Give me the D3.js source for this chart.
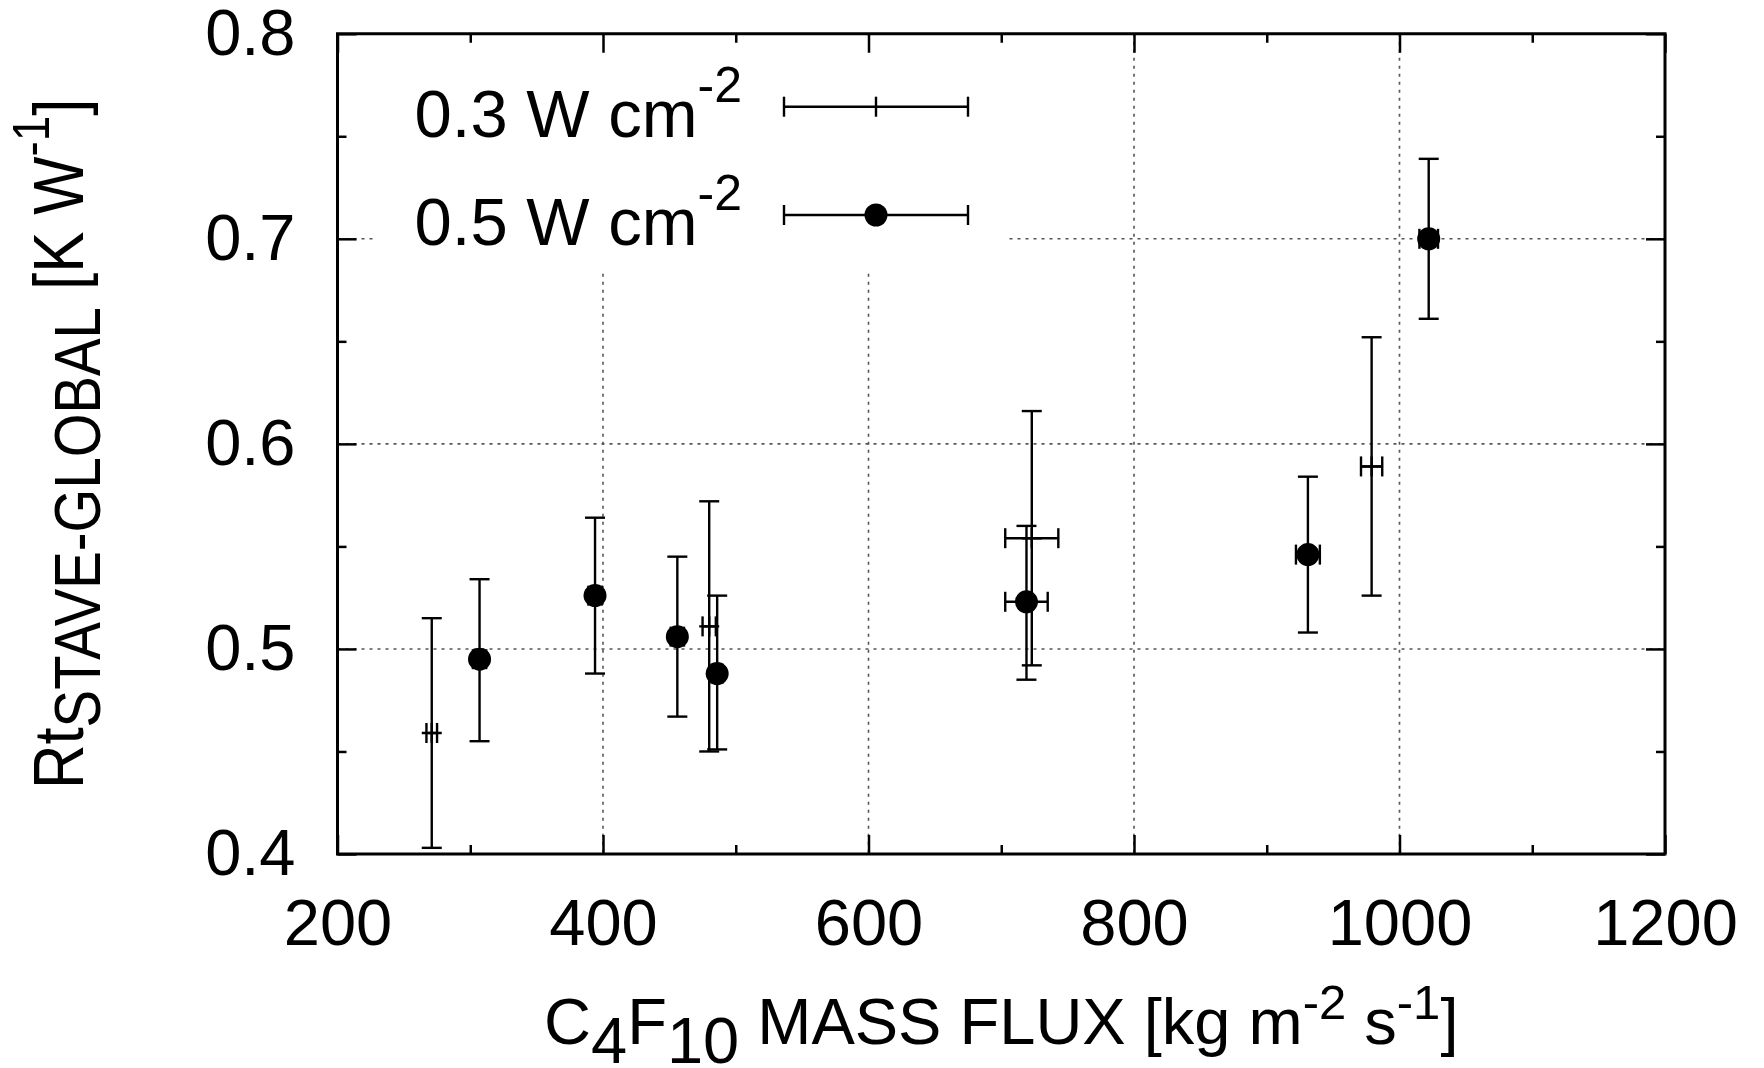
<!DOCTYPE html>
<html lang="en">
<head>
    <meta charset="UTF-8">
    <title>Rt vs mass flux</title>
    <script src="https://d3js.org/d3.v7.min.js"></script>
    <style>
        body { margin: 0; background: #fff; }
        svg { display: block; font-family: "Liberation Sans", Arial, Helvetica, sans-serif; }
    </style>
</head>
<body>
<div id="chart"></div>
<script>
    // 0.3 W cm-2 series
    var flux03 = [271, 480, 723, 979];
    var flux03Err = [4, 5, 20, 8];
    var rt03 = [0.459, 0.511, 0.554, 0.589];
    var rt03Lo = [0.403, 0.450, 0.492, 0.526];
    var rt03Hi = [0.515, 0.572, 0.616, 0.652];

    // 0.5 W cm-2 series
    var flux05 = [307, 394, 456, 486, 719, 931, 1022];
    var flux05Err = [5, 5, 5, 4, 16, 9, 7];
    var rt05 = [0.495, 0.526, 0.506, 0.488, 0.523, 0.546, 0.700];
    var rt05Lo = [0.455, 0.488, 0.467, 0.451, 0.485, 0.508, 0.661];
    var rt05Hi = [0.534, 0.564, 0.545, 0.526, 0.560, 0.584, 0.739];

    var xTicks = [200, 400, 600, 800, 1000, 1200];
    var xMinor = [300, 500, 700, 900, 1100];
    var yTicks = [0.4, 0.5, 0.6, 0.7, 0.8];
    var yMinor = [0.45, 0.55, 0.65, 0.75];
    var xGrid = [400, 600, 800, 1000];
    var yGrid = [0.5, 0.6, 0.7];

    var width = 1764, height = 1068;
    // note: "top" is taken by window.top, so prefix these
    var plotL = 337.5, plotR = 1665, plotT = 33.75, plotB = 854;

    var svg = d3.select("#chart").append("svg")
        .attr("width", width)
        .attr("height", height);

    var x = d3.scaleLinear().domain([200, 1200]).range([plotL, plotR]);
    var y = d3.scaleLinear().domain([0.4, 0.8]).range([plotB, plotT]);

    // grid
    var grid = svg.append("g")
        .attr("stroke", "#555")
        .attr("stroke-width", 1.6)
        .attr("stroke-dasharray", "3,5");
    grid.selectAll("line.gx").data(xGrid).enter().append("line")
        .attr("x1", function(d) { return x(d); }).attr("x2", function(d) { return x(d); })
        .attr("y1", plotT).attr("y2", plotB);
    grid.selectAll("line.gy").data(yGrid).enter().append("line")
        .attr("x1", plotL).attr("x2", plotR)
        .attr("y1", function(d) { return y(d); }).attr("y2", function(d) { return y(d); });

    // key box (opaque, hides grid)
    svg.append("rect")
        .attr("x", 376).attr("y", plotT + 2)
        .attr("width", 631).attr("height", 235)
        .attr("fill", "#fff");

    var cap = 10;
    var lw = 2.4;

    function errorBars(g, xs, xe, ys, lo, hi) {
        xs.forEach(function(v, i) {
            var cx = x(v), cy = y(ys[i]);
            var segs = [
                [cx, y(lo[i]), cx, y(hi[i])],
                [cx - cap, y(lo[i]), cx + cap, y(lo[i])],
                [cx - cap, y(hi[i]), cx + cap, y(hi[i])],
                [x(v - xe[i]), cy, x(v + xe[i]), cy],
                [x(v - xe[i]), cy - cap, x(v - xe[i]), cy + cap],
                [x(v + xe[i]), cy - cap, x(v + xe[i]), cy + cap]
            ];
            segs.forEach(function(s) {
                g.append("line").attr("x1", s[0]).attr("y1", s[1]).attr("x2", s[2]).attr("y2", s[3]);
            });
        });
    }

    var data03 = svg.append("g").attr("stroke", "#000").attr("stroke-width", lw);
    errorBars(data03, flux03, flux03Err, rt03, rt03Lo, rt03Hi);
    data03.selectAll("path.plus").data(flux03).enter().append("path")
        .attr("d", function(d, i) {
            var cx = x(d), cy = y(rt03[i]);
            return "M" + (cx - cap) + "," + cy + "H" + (cx + cap) + "M" + cx + "," + (cy - cap) + "V" + (cy + cap);
        });

    var data05 = svg.append("g").attr("stroke", "#000").attr("stroke-width", lw);
    errorBars(data05, flux05, flux05Err, rt05, rt05Lo, rt05Hi);
    svg.append("g").selectAll("circle").data(flux05).enter().append("circle")
        .attr("cx", function(d) { return x(d); })
        .attr("cy", function(d, i) { return y(rt05[i]); })
        .attr("r", 11.5)
        .attr("fill", "#000");

    // key
    var keyX1 = 784, keyX2 = 968, keyXc = 876;
    var keyRows = [
        { label: "0.3 W cm", y: 106.7, base: 136.7, dot: false },
        { label: "0.5 W cm", y: 215, base: 245, dot: true }
    ];
    var key = svg.append("g");
    keyRows.forEach(function(r) {
        var g = key.append("g").attr("stroke", "#000").attr("stroke-width", lw);
        g.append("line").attr("x1", keyX1).attr("x2", keyX2).attr("y1", r.y).attr("y2", r.y);
        g.append("line").attr("x1", keyX1).attr("x2", keyX1).attr("y1", r.y - cap).attr("y2", r.y + cap);
        g.append("line").attr("x1", keyX2).attr("x2", keyX2).attr("y1", r.y - cap).attr("y2", r.y + cap);
        if (r.dot) {
            key.append("circle").attr("cx", keyXc).attr("cy", r.y).attr("r", 11.5).attr("fill", "#000");
        } else {
            g.append("line").attr("x1", keyXc).attr("x2", keyXc).attr("y1", r.y - cap).attr("y2", r.y + cap);
        }
        var t = key.append("text")
            .attr("x", 742).attr("y", r.base)
            .attr("text-anchor", "end")
            .attr("font-size", 67);
        t.append("tspan").text(r.label);
        t.append("tspan").attr("font-size", 50).attr("dy", -35).text("-2");
    });

    // axes: major + minor, inward, mirrored
    function styleAxis(g) {
        g.select(".domain").remove();
        g.selectAll("line").attr("stroke", "#000").attr("stroke-width", 2.5);
        g.selectAll("text").attr("fill", "#000");
        g.attr("font-size", 65).attr("font-family", null);
    }

    svg.append("g").attr("transform", "translate(0," + plotB + ")")
        .call(d3.axisBottom(x).tickValues(xTicks).tickSize(-19).tickPadding(45).tickFormat(d3.format("d")))
        .call(styleAxis);
    svg.append("g").attr("transform", "translate(0," + plotB + ")")
        .call(d3.axisBottom(x).tickValues(xMinor).tickSize(-9).tickFormat(""))
        .call(styleAxis);
    svg.append("g").attr("transform", "translate(0," + plotT + ")")
        .call(d3.axisTop(x).tickValues(xTicks).tickSize(-19).tickFormat(""))
        .call(styleAxis);
    svg.append("g").attr("transform", "translate(0," + plotT + ")")
        .call(d3.axisTop(x).tickValues(xMinor).tickSize(-9).tickFormat(""))
        .call(styleAxis);

    svg.append("g").attr("transform", "translate(" + plotL + ",0)")
        .call(d3.axisLeft(y).tickValues(yTicks).tickSize(-19).tickPadding(42).tickFormat(d3.format(".1f")))
        .call(styleAxis);
    svg.append("g").attr("transform", "translate(" + plotL + ",0)")
        .call(d3.axisLeft(y).tickValues(yMinor).tickSize(-9).tickFormat(""))
        .call(styleAxis);
    svg.append("g").attr("transform", "translate(" + plotR + ",0)")
        .call(d3.axisRight(y).tickValues(yTicks).tickSize(-19).tickFormat(""))
        .call(styleAxis);
    svg.append("g").attr("transform", "translate(" + plotR + ",0)")
        .call(d3.axisRight(y).tickValues(yMinor).tickSize(-9).tickFormat(""))
        .call(styleAxis);

    // frame
    svg.append("rect")
        .attr("x", plotL).attr("y", plotT)
        .attr("width", plotR - plotL).attr("height", plotB - plotT)
        .attr("fill", "none")
        .attr("stroke", "#000")
        .attr("stroke-width", 3);

    // x axis title
    var xt = svg.append("text")
        .attr("x", (plotL + plotR) / 2).attr("y", 1044)
        .attr("text-anchor", "middle")
        .attr("font-size", 65);
    xt.append("tspan").text("C");
    xt.append("tspan").attr("dy", 19).text("4");
    xt.append("tspan").attr("dy", -19).text("F");
    xt.append("tspan").attr("dy", 19).text("10");
    xt.append("tspan").attr("dy", -19).text(" MASS FLUX [kg m");
    xt.append("tspan").attr("dy", -25).attr("font-size", 49).text("-2");
    xt.append("tspan").attr("dy", 25).text(" s");
    xt.append("tspan").attr("dy", -25).attr("font-size", 49).text("-1");
    xt.append("tspan").attr("dy", 25).text("]");

    // y axis title
    var yt = svg.append("text")
        .attr("transform", "translate(83," + ((plotT + plotB) / 2) + ") rotate(-90) scale(0.88,1)")
        .attr("text-anchor", "middle")
        .attr("font-size", 70);
    yt.append("tspan").text("Rt");
    yt.append("tspan").attr("dy", 17).attr("font-size", 64).text("STAVE-GLOBAL");
    yt.append("tspan").attr("dy", -17).text(" [K W");
    yt.append("tspan").attr("dy", -34).attr("font-size", 52).text("-1");
    yt.append("tspan").attr("dy", 34).text("]");
</script>
</body>
</html>
